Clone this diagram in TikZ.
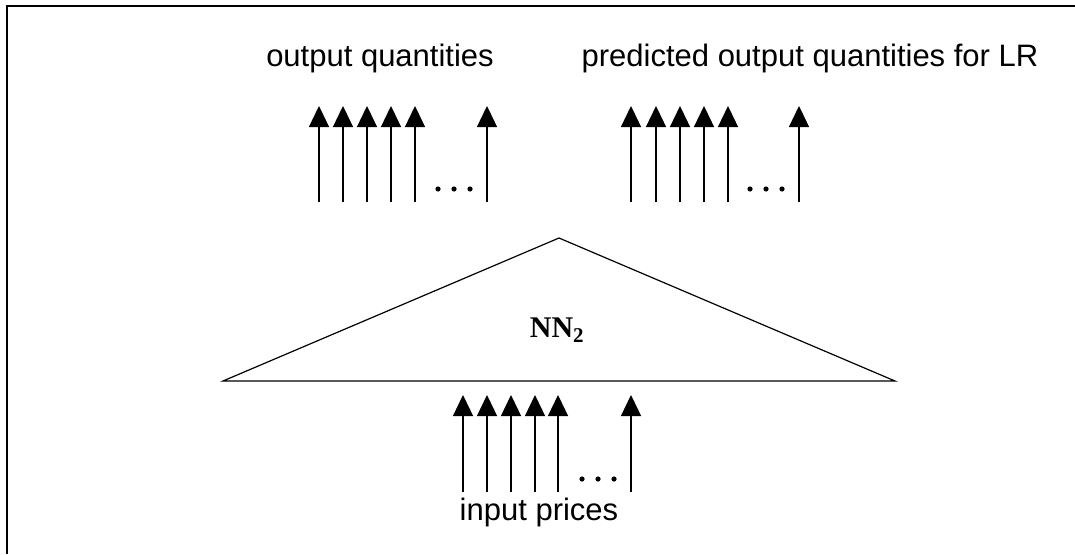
\documentclass[tikz,border=0pt]{standalone}
\usepackage{fontspec}
\setmainfont{Liberation Sans}
\newfontfamily\timesfont{Liberation Serif}
\usetikzlibrary{arrows.meta}
\begin{document}
\begin{tikzpicture}[x=1pt,y=-1pt,>={Triangle[width=20pt,length=21pt]},line width=1.3pt,
        lbl/.style={anchor=base,font=\fontsize{31}{36}\selectfont}]
            \def\ytop{106} \def\ybot{202}
            \def\yin{395}  \def\yinb{492}
            \def\dots(#1,#2){\foreach \d in {0,16,32} \fill (#1+\d,#2) circle (2.6pt);}
            \useasboundingbox (0,0) rectangle (1075,554);
            \draw[line width=2pt] (7,554)--(7,6)--(1075,6);
            %===========================================
            \coordinate (left) at (223,381);
            \coordinate (apex) at (559,238);
            \coordinate (right) at (895,381);
            \draw[line width=1.2pt] (left)--(apex)--(right)--cycle;
            \node[anchor=base,font=\timesfont\bfseries\fontsize{30}{34}\selectfont] (nn) at (557,337) {NN\textsubscript{2}};
            %===========================================
            \foreach \x in {319,343,367,391,415,487} \draw[->] (\x,\ybot)--(\x,\ytop);
            \foreach \x in {631,656,680,704,728,799} \draw[->] (\x,\ybot)--(\x,\ytop);
            \foreach \x in {463,487,511,535,558,631} \draw[->] (\x,\yinb)--(\x,\yin);
            \dots(438,189) \dots(750,189) \dots(582,479)
            %===========================================
            \node[lbl] (out) at (380,66) {output quantities};
            \node[lbl] (pred) at (810,66) {predicted output quantities for LR};
            \node[lbl] (in) at (539,520) {input prices};
    \end{tikzpicture}
\end{document}
